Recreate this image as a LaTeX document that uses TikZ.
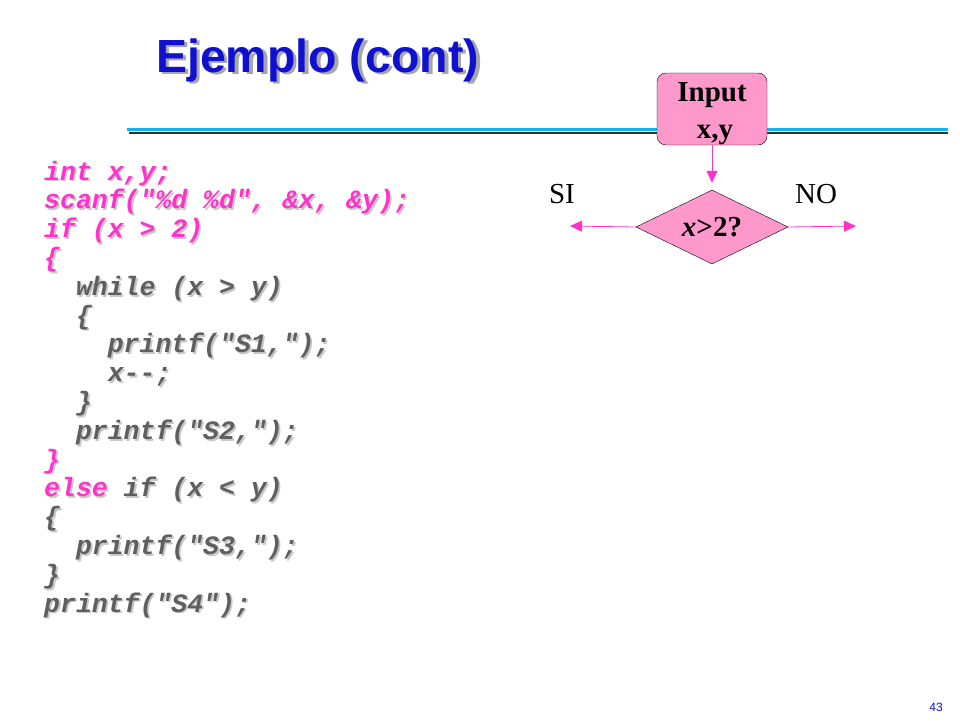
\documentclass[tikz,border=0pt]{standalone}
\usepackage{fontspec}
\setmainfont{Liberation Serif}
\setmonofont{Liberation Mono}
\newfontfamily\titlefont{Liberation Sans}
\usetikzlibrary{arrows.meta,shapes.geometric}

\definecolor{titleblue}{RGB}{16,16,208}
\definecolor{ruleblue}{RGB}{20,180,235}
\definecolor{codepink}{RGB}{255,51,204}
\definecolor{codegray}{RGB}{95,95,95}
\definecolor{shadowgray}{RGB}{200,200,200}
\definecolor{boxpink}{RGB}{255,153,204}

\newif\ifshadow
\newcommand\pk[1]{\ifshadow#1\else\textcolor{codepink}{#1}\fi}
% name, indent, row, colour, text
\newcommand\codeline[5]{%
	\node[code, text=shadowgray] at ({44+15.9*#2+1.8}, {180+28.8*#3+1.8}) {\shadowtrue#5};
	\node[code, text=#4] (#1) at ({44+15.9*#2}, {180+28.8*#3}) {#5};
}

\tikzset{
	code/.style={anchor=base west, inner sep=0pt, font=\ttfamily\bfseries\itshape\fontsize{26.5}{28.8}\selectfont},
	inbox/.style={draw=black, fill=boxpink, rounded corners=9pt, minimum width=110pt, minimum height=72pt, align=center, inner sep=0pt, font=\bfseries\fontsize{29}{37}\selectfont},
	decision/.style={diamond, draw=black, fill=boxpink, aspect=2, inner sep=0pt, minimum width=152pt, minimum height=74pt, font=\bfseries\fontsize{29}{34}\selectfont},
	flow/.style={draw=codepink, line width=0.8pt, -{Triangle[length=12pt,width=11pt]}},
	answer/.style={font=\fontsize{29}{34}\selectfont}
}

\begin{document}
\begin{tikzpicture}[x=1pt, y=-1pt]
			%%%%% START %%%%%
			\useasboundingbox (0,0) rectangle (960,720);
			
			\node[anchor=base west, inner sep=0pt, text=black!35, font=\titlefont\bfseries\fontsize{46.5}{50}\selectfont] at (159.5,74.5) {Ejemplo (cont)};
			\node[anchor=base west, inner sep=0pt, text=titleblue, font=\titlefont\bfseries\fontsize{46.5}{50}\selectfont] (title) at (156,72) {Ejemplo (cont)};
			
			\draw[line width=2pt, color=black!80] (129,132.5) -- (948,132.5);
			\draw[line width=3pt, color=ruleblue] (127,129.5) -- (948,129.5);
			
			\codeline{l0}{0}{0}{codepink}{int x,y;}
			\codeline{l1}{0}{1}{codepink}{scanf("\%d \%d", \&x, \&y);}
			\codeline{l2}{0}{2}{codepink}{if (x > 2)}
			\codeline{l3}{0}{3}{codepink}{\{}
			\codeline{l4}{2}{4}{codegray}{while (x > y)}
			\codeline{l5}{2}{5}{codegray}{\{}
			\codeline{l6}{4}{6}{codegray}{printf("S1,");}
			\codeline{l7}{4}{7}{codegray}{x--;}
			\codeline{l8}{2}{8}{codegray}{\}}
			\codeline{l9}{2}{9}{codegray}{printf("S2,");}
			\codeline{l10}{0}{10}{codepink}{\}}
			\codeline{l11}{0}{11}{codegray}{\pk{else} if (x < y)}
			\codeline{l12}{0}{12}{codegray}{\{}
			\codeline{l13}{2}{13}{codegray}{printf("S3,");}
			\codeline{l14}{0}{14}{codegray}{\}}
			\codeline{l15}{0}{15}{codegray}{printf("S4");}
			
			\node[inbox] (input) at (712,109) {\rule{0pt}{28pt}Input\\\hspace*{6pt}x,y};
			\node[decision] (cond) at (712,227) {\textit{x}>2?};
			
			\coordinate (siend) at (570,226);
			\coordinate (noend) at (856,226);
			\draw[flow, shorten >=7pt] (input) -- (cond);
			\draw[flow] (cond.west) -- (siend);
			\draw[flow] (cond.east) -- (noend);
			
			\node[answer] (si) at (562,194) {SI};
			\node[answer] (no) at (816,194) {NO};
			
			\node[text=titleblue, font=\titlefont\fontsize{12}{14}\selectfont] (pagenum) at (936,707) {43};
			%%%%% END %%%%%
\end{tikzpicture}
\end{document}
